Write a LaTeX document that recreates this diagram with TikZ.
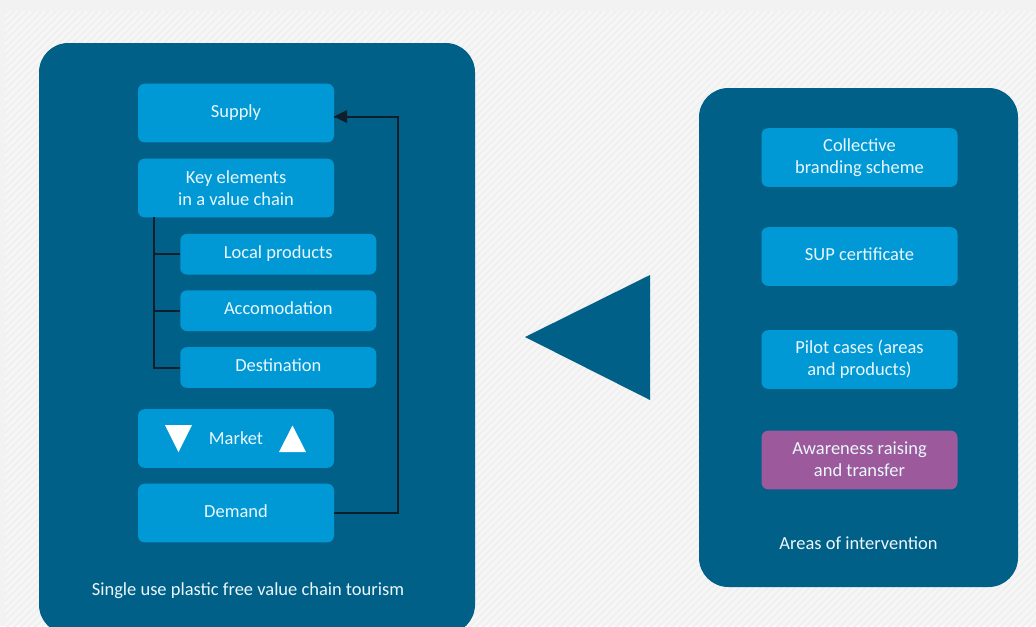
\documentclass[tikz,border=0pt]{standalone}
\usepackage{fontspec}
\setmainfont{Carlito}
\definecolor{bgout}{HTML}{F2F2F2}
\definecolor{bgin}{HTML}{F6F6F6}
\definecolor{stripe}{HTML}{F0F0F0}
\definecolor{panel}{HTML}{006087}
\definecolor{boxblue}{HTML}{0099D5}
\definecolor{boxpurple}{HTML}{9C5A9C}
\definecolor{txt}{HTML}{EAF7FC}
\definecolor{ink}{HTML}{0E1E2A}
\newcommand{\lbl}[2]{\raisebox{#1}[0pt][0pt]{\begin{tabular}{@{}c@{}}#2\end{tabular}}}
\tikzset{
  x=0.75pt,y=-0.75pt,
  panelbox/.style={fill=panel,draw=none,rounded corners=22pt,inner sep=0pt,outer sep=0pt},
  stepbox/.style={fill=boxblue,draw=none,rounded corners=5pt,inner sep=0pt,outer sep=0pt,text=txt,
    minimum width=147pt,font=\fontsize{13.85}{16.5}\selectfont},
  tall/.style={minimum height=44pt},
  short/.style={minimum height=30.5pt},
  wire/.style={draw=ink,line width=1.5pt},
  caption/.style={text=txt,font=\fontsize{13.85}{16.5}\selectfont,inner sep=0pt},
  whitetri/.style={fill=white,draw=none},
}
\begin{document}
\begin{tikzpicture}
\useasboundingbox (0,0) rectangle (1036,626);
\fill[bgout] (0,0) rectangle (1036,626);
\begin{scope}
\clip (5,11) rectangle (1036,626);
\fill[bgin] (5,11) rectangle (1036,626);
\foreach \k in {0,7,...,1680}{
  \draw[stripe,line width=1.4pt] (\k,11) -- ++(-640,640);
}
\end{scope}
\begin{scope}
\clip (0,0) rectangle (1036,626);
\fill[panelbox] (39,43) rectangle (475,634);
\end{scope}
\fill[panelbox] (699,88) rectangle (1018,587);
\fill[panel] (525,337) -- (650,275) -- (650,400) -- cycle;

\node[stepbox,tall]  (supply) at (236,113)    {\lbl{-3.5pt}{Supply}};
\node[stepbox,tall]  (key)    at (236,188)    {\lbl{-5.3pt}{Key elements\\in a value chain}};
\node[stepbox,short] (local)  at (278.25,254.2) {\lbl{-3.7pt}{Local products}};
\node[stepbox,short] (accom)  at (278.25,310.7) {\lbl{-3.3pt}{Accomodation}};
\node[stepbox,short] (dest)   at (278.25,367.5) {\lbl{-3pt}{Destination}};
\node[stepbox,tall]  (market) at (236,438.5)  {\lbl{-5pt}{Market}};
\node[stepbox,tall]  (demand) at (236,513)    {\lbl{-3.5pt}{Demand}};

\node[stepbox,tall] (brand) at (859.5,157.5) {\lbl{-3.8pt}{Collective\\branding scheme}};
\node[stepbox,tall] (sup)   at (859.5,256.5) {\lbl{-3pt}{SUP certificate}};
\node[stepbox,tall] (pilot) at (859.5,359.5) {\lbl{-3.8pt}{Pilot cases (areas\\and products)}};
\node[stepbox,tall,fill=boxpurple] (aware) at (859.5,460) {\lbl{-4.5pt}{Awareness raising\\and transfer}};

\node[caption] (capL) at (248,590.5) {Single use plastic free value chain tourism};
\node[caption] (capR) at (858.5,543) {Areas of intervention};

\fill[whitetri] (165,425) -- (192,425) -- (178.5,452) -- cycle;
\fill[whitetri] (279,452) -- (306,452) -- (292.5,425.5) -- cycle;

\coordinate (ktop) at ([xshift=-61.5pt]key.south);
\coordinate (b1) at (ktop |- local.west);
\coordinate (b2) at (ktop |- accom.west);
\coordinate (b3) at (ktop |- dest.west);
\draw[wire] (ktop) -- (b3) -- (dest.west);
\draw[wire] (b1) -- (local.west);
\draw[wire] (b2) -- (accom.west);

\coordinate (r1) at (397.5,513);
\coordinate (r2) at (397.5,116.5);
\coordinate (stip) at (supply.east |- r2);
\draw[wire] (demand.east) -- (r1) -- (r2) -- (stip);
\fill[ink] (stip) -- ++(13,-6.5) -- ++(0,13) -- cycle;
\end{tikzpicture}
\end{document}
